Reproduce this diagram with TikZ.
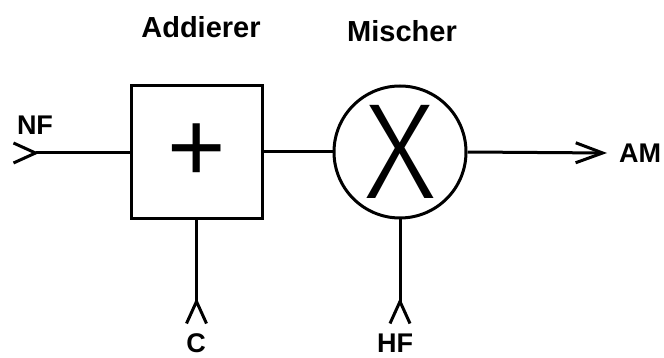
\documentclass[tikz,border=0pt]{standalone}
\usepackage{fontspec}
\setmainfont{Liberation Sans}
\newfontfamily\thinfont{Fira Sans Light}
\usetikzlibrary{arrows.meta,positioning}

\begin{document}
\begin{tikzpicture}[
		x=1pt, y=-1pt,
		line width=3pt,
		adder node/.style={rectangle, draw, line width=3pt, minimum width=131pt, minimum height=133pt, inner sep=0pt, font=\fontsize{100}{100}\selectfont},
		mixer node/.style={circle, draw, line width=3pt, minimum size=132pt, inner sep=0pt, font=\thinfont\fontsize{136}{136}\selectfont},
		label node/.style={inner sep=0pt, anchor=base, font=\bfseries\fontsize{27}{30}\selectfont},
		title node/.style={inner sep=0pt, anchor=base, font=\bfseries\fontsize{29}{32}\selectfont},
		in tip/.style={arrows={Straight Barb[reversed,length=22pt,width=20pt]-}},
		out tip/.style={arrows={-Straight Barb[length=27pt,width=20pt]}}
	]
		\useasboundingbox (0,0) rectangle (664,358);

		\node[adder node] (adder) at (196.5,152.5) {\raisebox{-4pt}{+}};
		\node[mixer node] (mixer) at (400,152) {X};

		\coordinate (nf) at (12,153);
		\coordinate (am) at (607,153);
		\coordinate (c) at (196.5,325);
		\coordinate (hf) at (400,325);

		\draw[in tip] (nf) -- (nf -| adder.west);
		\draw (adder.east |- mixer.west) -- (mixer.west);
		\draw[out tip] (mixer.east) -- (am);

		\foreach \src/\dst in {c/adder, hf/mixer} {
			\draw[in tip] (\src) -- (\dst.south);
		}

		\node[title node] (laddr) at (201,38) {Addierer};
		\node[title node] (lmix) at (402,42) {Mischer};
		\node[label node] (lnf) at (35,135) {NF};
		\node[label node] (lam) at (640,163) {AM};
		\node[label node] (lc) at (196,352) {C};
		\node[label node] (lhf) at (395,352) {HF};

	\end{tikzpicture}
\end{document}
